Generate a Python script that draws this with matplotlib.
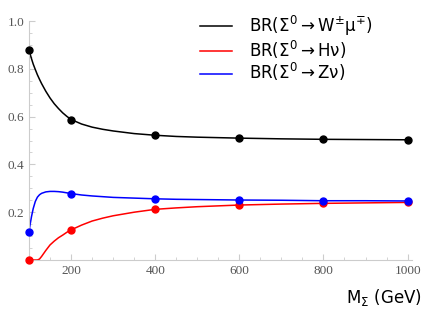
import matplotlib.pyplot as plt
from matplotlib.ticker import MultipleLocator

plt.rcParams['font.family'] = 'Liberation Serif'

# curve samples
m_curve = [100, 103, 106, 110, 115, 120, 125, 130, 140, 150, 160, 170, 180, 190, 200, 225, 250, 275, 300, 350, 400, 450, 500, 600, 700, 800, 900, 1000]
br_w_curve = [0.878, 0.860, 0.842, 0.820, 0.797, 0.775, 0.756, 0.738, 0.706, 0.678, 0.654, 0.634, 0.616, 0.601, 0.588, 0.569, 0.556, 0.547, 0.540, 0.529, 0.522, 0.517, 0.514, 0.510, 0.507, 0.505, 0.504, 0.503]
br_h_curve = [0.0, 0.0, 0.0, 0.0, 0.0, 0.0, 0.004, 0.015, 0.040, 0.063, 0.079, 0.093, 0.104, 0.116, 0.126, 0.146, 0.163, 0.175, 0.185, 0.200, 0.212, 0.218, 0.223, 0.230, 0.234, 0.237, 0.239, 0.241]
br_z_curve = [0.118, 0.152, 0.182, 0.215, 0.245, 0.263, 0.273, 0.279, 0.285, 0.287, 0.287, 0.286, 0.284, 0.281, 0.278, 0.272, 0.268, 0.265, 0.262, 0.259, 0.256, 0.254, 0.253, 0.251, 0.250, 0.248, 0.248, 0.247]

# computed points
m_pts = [100, 200, 400, 600, 800, 1000]
br_w_pts = [0.878, 0.586, 0.522, 0.510, 0.505, 0.503]
br_h_pts = [0.0, 0.126, 0.212, 0.230, 0.237, 0.241]
br_z_pts = [0.118, 0.277, 0.256, 0.251, 0.248, 0.247]

x_ticks = [200, 400, 600, 800, 1000]
y_ticks = [0.2, 0.4, 0.6, 0.8, 1.0]
y_tick_labels = ['0.2', '0.4', '0.6', '0.8', '1.0']

labels = [r'BR($\mathregular{\Sigma^0 \rightarrow W^{\pm}\mu^{\mp}}$)',
          r'BR($\mathregular{\Sigma^0 \rightarrow H\nu}$)',
          r'BR($\mathregular{\Sigma^0 \rightarrow Z\nu}$)']
colors = ['black', '#ff0000', '#0000ff']

fig = plt.figure(figsize=(4.36, 3.14), dpi=100)
ax = fig.add_axes([0.0665, 0.172, 0.878, 0.761])

curves = [br_w_curve, br_h_curve, br_z_curve]
points = [br_w_pts, br_h_pts, br_z_pts]
for c, p, col, lab in zip(curves, points, colors, labels):
    ax.plot(m_curve, c, color=col, lw=1.1, label=lab)
    ax.plot(m_pts, p, 'o', color=col, ms=5, clip_on=False, zorder=5)

ax.set_xlim(100, 1010)
ax.set_ylim(0, 1.0)

for s in ['top', 'right']:
    ax.spines[s].set_visible(False)
for s in ['left', 'bottom']:
    ax.spines[s].set_color('#cccccc')
    ax.spines[s].set_linewidth(0.8)

ax.set_xticks(x_ticks, [str(v) for v in x_ticks])
ax.set_yticks(y_ticks, y_tick_labels)
ax.xaxis.set_minor_locator(MultipleLocator(50))
ax.yaxis.set_minor_locator(MultipleLocator(0.05))
ax.tick_params(which='both', direction='in', color='#cccccc', labelcolor='#555555',
               labelsize=9.5)
ax.tick_params(which='major', length=4, width=0.8)
ax.tick_params(which='minor', length=2.5, width=0.6)

leg = fig.legend(loc='upper left', bbox_to_anchor=(0.459, 0.955), frameon=False,
                 prop={'family': 'DejaVu Sans', 'size': 12},
                 handlelength=1.9, handletextpad=1.05, labelspacing=0.03,
                 borderpad=0, borderaxespad=0)

fig.text(0.968, 0.035, r'M$_\mathregular{\Sigma}$ (GeV)', ha='right', fontsize=12,
         family='DejaVu Sans')

fig.savefig('out.png', dpi=100)
